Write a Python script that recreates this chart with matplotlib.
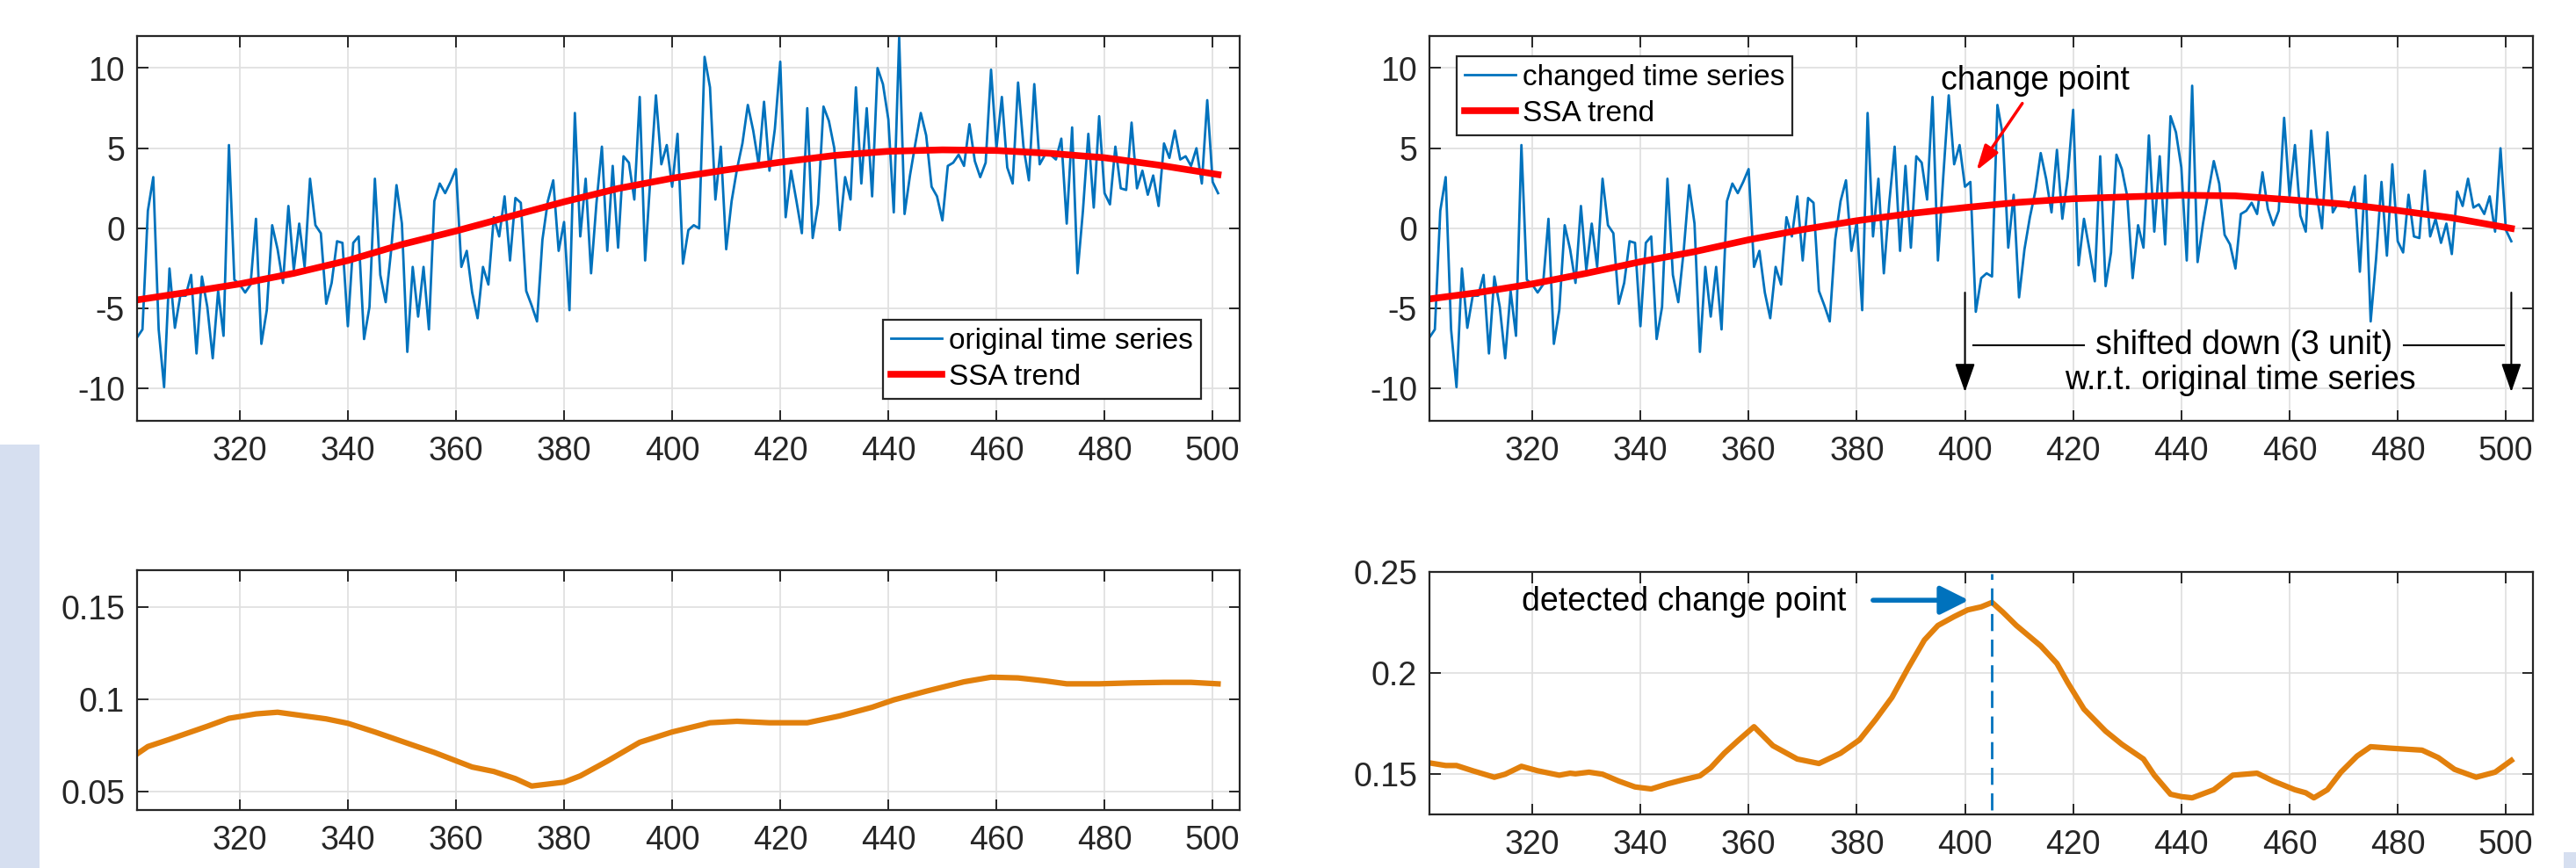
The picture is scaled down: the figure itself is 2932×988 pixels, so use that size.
import numpy as np
import matplotlib
matplotlib.use('Agg')
import matplotlib.pyplot as plt
from matplotlib.patches import Rectangle

plt.rcParams['font.family'] = ['Liberation Sans', 'DejaVu Sans']
plt.rcParams['axes.unicode_minus'] = False

# ---- data ----
t = np.arange(301, 502)

orig_series = [
	-6.8, -6.3, 1.1, 3.2, -6.3, -9.9, -2.5, -6.2, -4.2, -4.2,
	-2.9, -7.8, -3.0, -4.9, -8.1, -3.9, -6.7, 5.2, -3.2, -3.5,
	-4.0, -3.5, 0.6, -7.2, -5.1, 0.2, -1.3, -3.4, 1.4, -2.6,
	0.3, -2.4, 3.1, 0.2, -0.3, -4.7, -3.4, -0.8, -0.9, -6.1,
	-0.9, -0.5, -6.9, -4.9, 3.1, -2.9, -4.6, -1.4, 2.7, 0.3,
	-7.7, -2.4, -5.5, -2.4, -6.3, 1.7, 2.8, 2.2, 2.9, 3.7,
	-2.4, -1.4, -4.0, -5.6, -2.4, -3.5, 0.7, -0.5, 2.0, -2.0,
	1.9, 1.6, -3.9, -4.8, -5.8, -0.7, 1.7, 3.0, -1.4, 0.4,
	-5.1, 7.2, -0.5, 3.1, -2.8, 1.6, 5.1, -1.4, 3.9, -1.2,
	4.5, 4.1, 1.8, 8.2, -2.0, 3.3, 8.3, 4.0, 5.2, 2.6,
	5.9, -2.2, -0.1, 0.2, 0.0, 10.7, 8.8, 1.8, 5.1, -1.3,
	1.7, 3.7, 5.3, 7.7, 6.1, 4.0, 7.9, 3.6, 6.2, 10.4,
	0.7, 3.6, 1.7, -0.3, 7.5, -0.6, 1.5, 7.6, 6.7, 5.0,
	-0.1, 3.2, 1.8, 8.8, 2.8, 7.5, 2.0, 10.0, 9.0, 6.8,
	1.0, 11.9, 0.9, 3.3, 5.3, 7.2, 5.8, 2.6, 2.0, 0.5,
	3.9, 4.1, 4.6, 3.9, 6.5, 4.2, 3.2, 4.1, 9.9, 5.0,
	8.2, 3.8, 2.8, 9.1, 5.1, 3.0, 9.0, 4.0, 4.6, 4.6,
	4.3, 5.6, 0.3, 6.3, -2.8, 1.1, 5.9, 1.3, 7.0, 2.2,
	1.5, 5.1, 2.5, 2.4, 6.6, 2.5, 3.6, 2.1, 3.3, 1.4,
	5.3, 4.4, 6.1, 4.3, 4.5, 3.9, 5.0, 2.8, 8.0, 2.9,
	2.2,
]
shift_start = 401
shift_size = 3.0

trend_x = [301, 310, 320, 330, 340, 350, 360, 370, 380, 390, 400,
	410, 420, 430, 440, 450, 460, 470, 480, 490, 501]
trend_orig = [-4.46, -4.0, -3.46, -2.8, -2.0, -1.0, -0.16, 0.75, 1.66, 2.49, 3.13,
	3.65, 4.13, 4.55, 4.81, 4.90, 4.86, 4.68, 4.41, 3.95, 3.36]
trend_changed = [-4.4, -4.0, -3.46, -2.8, -2.08, -1.45, -0.71, -0.07, 0.48, 0.93, 1.30,
	1.63, 1.85, 1.97, 2.07, 2.03, 1.79, 1.52, 1.12, 0.66, 0.0]

score_left_x = [301, 303, 307, 314, 318, 323, 327, 332, 336, 340, 345, 352,
	356, 363, 367, 371, 374, 380, 383, 388, 394, 400, 407, 412, 418, 425,
	431, 437, 441, 447, 454, 459, 464, 469, 473, 479, 485, 491, 496, 501]
score_left = [0.0704, 0.0744, 0.0783, 0.0854, 0.0897, 0.0921, 0.0930, 0.0910,
	0.0894, 0.0870, 0.0823, 0.0752, 0.0712, 0.0633, 0.0609, 0.0570, 0.0530,
	0.0551, 0.0585, 0.0665, 0.0767, 0.0823, 0.0873, 0.0881, 0.0873, 0.0873,
	0.0910, 0.0957, 0.0997, 0.1044, 0.1095, 0.1120, 0.1116, 0.1100, 0.1084,
	0.1084, 0.1089, 0.1092, 0.1092, 0.1084]

score_right_x = [301, 304, 306, 309, 313, 315, 318, 321, 325, 327, 328, 330.5,
	333, 336, 339, 342, 345, 348, 351, 353, 355.5, 358, 361, 364.5, 369, 373,
	377, 380.5, 383.5, 386.5, 389.5, 392.5, 395, 398, 400.5, 403, 405, 407,
	409.5, 414, 417, 419, 422, 426, 429, 433, 435, 438, 440, 442, 446, 449.5,
	454, 457, 461, 463, 464.5, 467, 469.5, 472.5, 475, 478.5, 484.5, 487.5,
	490.5, 494.5, 498, 501]
score_right = [0.1555, 0.1542, 0.1542, 0.1516, 0.1484, 0.1499, 0.1538, 0.1516,
	0.1494, 0.1504, 0.1501, 0.1509, 0.1499, 0.1465, 0.1436, 0.1426, 0.1451,
	0.1472, 0.1491, 0.1531, 0.1603, 0.1664, 0.1734, 0.1640, 0.1574, 0.1552,
	0.1603, 0.1669, 0.1770, 0.1879, 0.2025, 0.2163, 0.2235, 0.2279, 0.2312,
	0.2327, 0.2349, 0.2301, 0.2235, 0.2134, 0.2047, 0.1952, 0.1821, 0.1712,
	0.1647, 0.1574, 0.1494, 0.1400, 0.1388, 0.1382, 0.1422, 0.1494, 0.1504,
	0.1465, 0.1422, 0.1407, 0.1382, 0.1422, 0.1509, 0.1589, 0.1635, 0.1628,
	0.1618, 0.1581, 0.1523, 0.1484, 0.1509, 0.1567]

detected_cp = 405
xticks = [320, 340, 360, 380, 400, 420, 440, 460, 480, 500]

# changed series = original, shifted down after the change point
orig = np.array(orig_series)
changed = orig.copy()
changed[t >= shift_start] -= shift_size

BLUE = '#0072BD'
ORANGE = '#E2800C'
DARK = '#262626'
FS_TICK = 27
FS_LEG = 24
FS_TXT = 27

W, H = 2932, 988
fig = plt.figure(figsize=(W / 100, H / 100), dpi=100)

def px_axes(l, t_, r, b):
	return fig.add_axes([l / W, 1 - b / H, (r - l) / W, (b - t_) / H])

def style(ax, ylim, yticks, ylabels):
	ax.set_xlim(301, 505)
	ax.set_ylim(*ylim)
	ax.set_xticks(xticks)
	ax.set_yticks(yticks)
	ax.set_yticklabels(ylabels)
	ax.grid(True, color='#e0e0e0', lw=1.3)
	ax.set_axisbelow(True)
	for s in ax.spines.values():
		s.set_color(DARK)
		s.set_linewidth(1.6)
	ax.tick_params(direction='in', top=True, right=True, length=9, width=1.4,
		color=DARK, labelcolor=DARK, labelsize=FS_TICK)
	ax.tick_params(axis='x', pad=12)
	ax.tick_params(axis='y', pad=10)

def legend(ax, **kw):
	leg = ax.legend(borderaxespad=0, fontsize=FS_LEG, fancybox=False, framealpha=1,
		edgecolor=DARK, handlelength=1.74, handletextpad=0.24, borderpad=0.27,
		labelspacing=0.3, **kw)
	leg.get_frame().set_linewidth(1.6)

# background strip on the left edge
fig.patches.append(Rectangle((0, 0), 45 / W, (H - 506) / H, transform=fig.transFigure,
	facecolor='#d6dff0', edgecolor='none', zorder=0))
fig.patches.append(Rectangle((2918 / W, 0), 14 / W, 18 / H, transform=fig.transFigure,
	facecolor='#d6dff0', edgecolor='none', zorder=0))

# top left
ax1 = px_axes(156, 41, 1411, 479)
ax1.plot(t, orig, color=BLUE, lw=2.0, label='original time series')
ax1.plot(trend_x, trend_orig, color='red', lw=5.5, label='SSA trend')
style(ax1, (-12, 12), [-10, -5, 0, 5, 10], ['-10', '-5', '0', '5', '10'])
legend(ax1, loc='lower right', bbox_to_anchor=(0.965, 0.057))

# top right
ax2 = px_axes(1627, 41, 2883, 479)
ax2.plot(t, changed, color=BLUE, lw=2.0, label='changed time series')
ax2.plot(trend_x, trend_changed, color='red', lw=5.5, label='SSA trend')
style(ax2, (-12, 12), [-10, -5, 0, 5, 10], ['-10', '-5', '0', '5', '10'])
legend(ax2, loc='upper left', bbox_to_anchor=(0.0247, 0.9475))

ax2.text(413, 9.2, 'change point', fontsize=FS_TXT, ha='center', va='center')
ax2.annotate('', xy=(402.1, 3.6), xytext=(410.6, 7.8),
	arrowprops=dict(arrowstyle='-|>,head_length=0.7,head_width=0.22',
		color='red', lw=2.5, mutation_scale=25, shrinkA=0, shrinkB=0))
for xa in (400, 501):
	ax2.annotate('', xy=(xa, -10.2), xytext=(xa, -4.0),
		arrowprops=dict(arrowstyle='-|>,head_length=1.0,head_width=0.35',
			color='black', lw=1.5, mutation_scale=20, shrinkA=0, shrinkB=0))
ax2.plot([401.6, 422], [-7.3, -7.3], color='black', lw=1.5)
ax2.plot([481.2, 499.7], [-7.3, -7.3], color='black', lw=1.5)
ax2.text(451.5, -7.3, 'shifted down (3 unit)', fontsize=FS_TXT, ha='center', va='center')
ax2.text(450.9, -9.5, 'w.r.t. original time series', fontsize=FS_TXT, ha='center', va='center')

# bottom left
ax3 = px_axes(156, 649, 1411, 922)
ax3.plot(score_left_x, score_left, color=ORANGE, lw=4.5)
style(ax3, (0.04, 0.17), [0.05, 0.1, 0.15], ['0.05', '0.1', '0.15'])

# bottom right
ax4 = px_axes(1627, 651, 2883, 927)
ax4.plot(score_right_x, score_right, color=ORANGE, lw=4.5)
style(ax4, (0.13, 0.25), [0.15, 0.2, 0.25], ['0.15', '0.2', '0.25'])
ax4.plot([detected_cp, detected_cp], [0.132, 0.249], color=BLUE, lw=2, dashes=(7, 3.5))
ax4.text(318.1, 0.2352, 'detected change point', fontsize=FS_TXT, ha='left', va='center')
ax4.annotate('', xy=(400.7, 0.236), xytext=(383, 0.236),
	arrowprops=dict(arrowstyle='-|>,head_length=0.9,head_width=0.45',
		color=BLUE, lw=4, mutation_scale=22, shrinkA=0, shrinkB=0))

fig.savefig('out.png', dpi=100)
